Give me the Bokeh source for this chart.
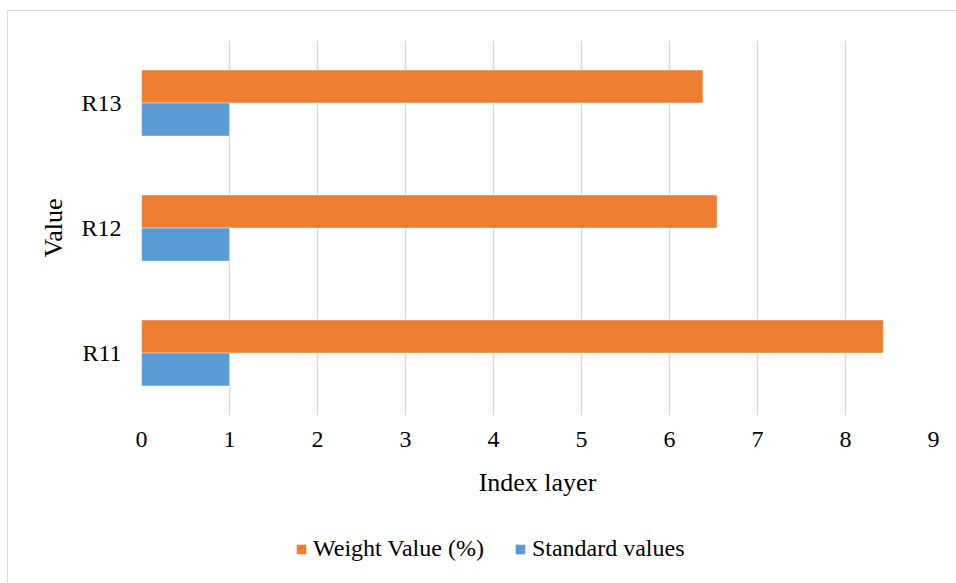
from bokeh.plotting import figure
from bokeh.layouts import column
from bokeh.models import FactorRange, Range1d, FixedTicker, Legend, LegendItem, ColumnDataSource
from bokeh.transform import dodge
from bokeh.embed import file_html
from bokeh.resources import INLINE

categories = ["R11", "R12", "R13"]
weight_values = [8.43, 6.54, 6.38]
standard_values = [1, 1, 1]
x_ticks = [0, 1, 2, 3, 4, 5, 6, 7, 8, 9]
series_names = ["Weight Value (%)", "Standard values"]

FONT = "Liberation Serif"
ORANGE = "#ED7D31"
BLUE = "#5B9BD5"

src = ColumnDataSource(dict(cat=categories, w=weight_values, s=standard_values))

p = figure(width=949, height=500, y_range=FactorRange(*categories, range_padding=0),
           x_range=Range1d(0, 9), output_backend="svg", toolbar_location=None,
           min_border_left=133, min_border_right=24, min_border_top=29, min_border_bottom=96)
p.outline_line_color = None
p.background_fill_color = "white"
p.border_fill_color = "white"

bw = 0.264
p.hbar(y=dodge("cat", bw / 2, range=p.y_range), right="w", left=0, height=bw,
       source=src, fill_color=ORANGE, line_color="white", line_alpha=0.4, line_width=1)
p.hbar(y=dodge("cat", -bw / 2, range=p.y_range), right="s", left=0, height=bw,
       source=src, fill_color=BLUE, line_color="white", line_alpha=0.4, line_width=1)

p.xaxis.ticker = FixedTicker(ticks=x_ticks)
for ax in (p.xaxis[0], p.yaxis[0]):
    ax.axis_line_color = None
    ax.major_tick_line_color = None
    ax.minor_tick_line_color = None
    ax.major_tick_out = 0
    ax.major_tick_in = 0
    ax.major_label_text_font = FONT
    ax.major_label_text_font_size = "24px"
    ax.major_label_text_color = "#000000"
    ax.axis_label_text_font = FONT
    ax.axis_label_text_font_size = "26px"
    ax.axis_label_text_font_style = "normal"
    ax.axis_label_text_color = "#000000"

p.xaxis.axis_label = "Index layer"
p.yaxis.axis_label = "Value"
p.xaxis.major_label_standoff = 16
p.xaxis.axis_label_standoff = 18
p.yaxis.major_label_standoff = 20
p.yaxis.axis_label_standoff = 10

p.xgrid.grid_line_color = "#d9d9d9"
p.xgrid.grid_line_width = 1.5
p.ygrid.grid_line_color = None

# legend strip below the chart (its bars lie outside its own ranges, only the key shows)
q = figure(width=949, height=73, x_range=Range1d(-200, -100), y_range=Range1d(100, 200),
           output_backend="svg", toolbar_location=None, min_border=0)
q.axis.visible = False
q.grid.visible = False
q.outline_line_color = None
q.border_fill_color = "white"
q.background_fill_color = "white"
k_w = q.hbar(y=0.5, right="w", left=0, height=0.5, source=src, fill_color=ORANGE, line_color=None)
k_s = q.hbar(y=0.5, right="s", left=0, height=0.5, source=src, fill_color=BLUE, line_color=None)

legend = Legend(items=[LegendItem(label=series_names[0], renderers=[k_w]),
                       LegendItem(label=series_names[1], renderers=[k_s])],
                orientation="horizontal", location=(154, 22),
                label_text_font=FONT, label_text_font_size="24px", label_text_color="#000000",
                glyph_width=12, glyph_height=12, label_standoff=6, spacing=30,
                padding=0, margin=0, border_line_color=None, background_fill_alpha=0)
q.add_layout(legend, "center")

layout = column(p, q, spacing=0)
layout.styles = {"margin-left": "7px", "margin-top": "10px",
                 "border-top": "1px solid #d9d9d9", "border-left": "1px solid #d9d9d9"}

open("out.html", "w").write(file_html(layout, INLINE))
